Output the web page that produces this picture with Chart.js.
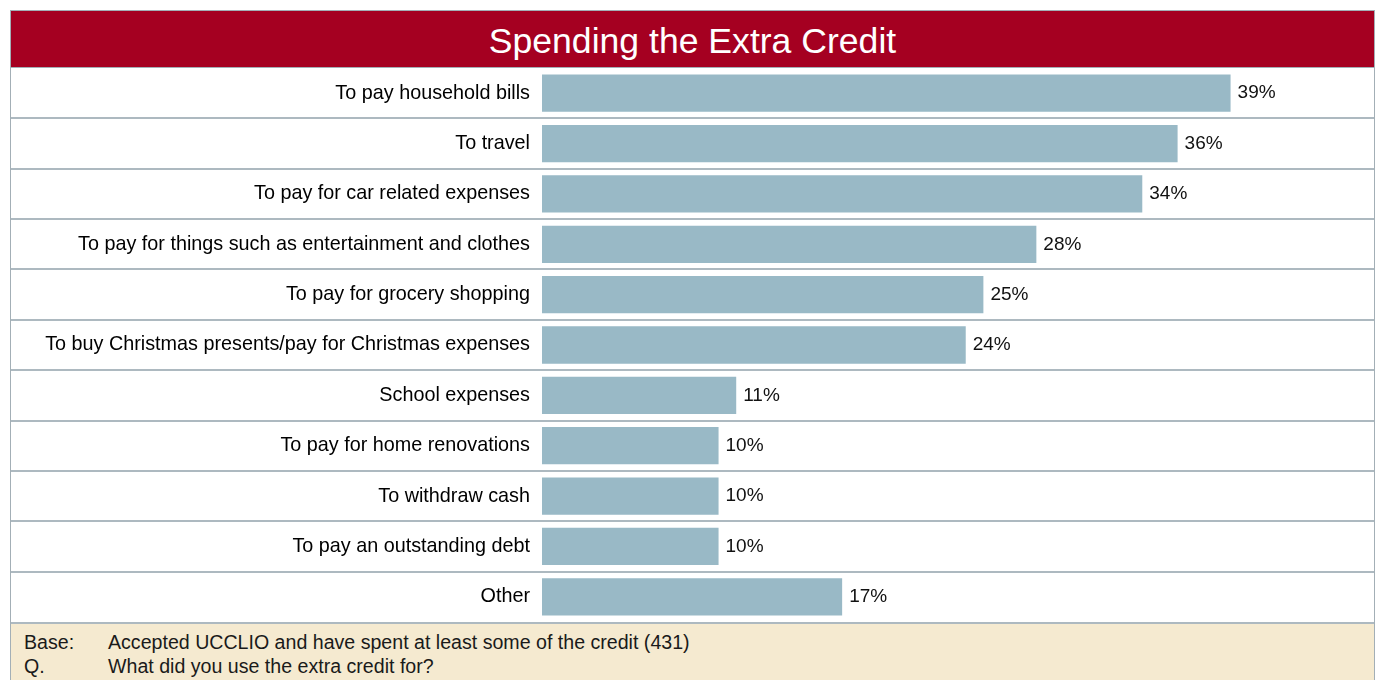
<!DOCTYPE html>
<html>
<head>
<meta charset="utf-8">
<title>Spending the Extra Credit</title>
<script src="https://cdn.jsdelivr.net/npm/chart.js@4"></script>
<style>
  html, body { margin: 0; padding: 0; background: #fff; overflow: hidden; }
  body { width: 1380px; height: 680px; font-family: "Liberation Sans", Arial, sans-serif; }
  #frame {
    position: absolute; left: 10px; top: 10px; width: 1365px;
    box-sizing: border-box; border: 1px solid #a3afb6; border-bottom: none;
  }
  #title {
    height: 56px; line-height: 60px; background: #a50021; color: #fff;
    text-align: center; font-size: 35.6px; border-bottom: 1px solid #a3afb6;
  }
  #plot { position: relative; height: 554px; }
  #notes {
    height: 70px; background: #f5ead0; border-top: 2px solid #adb9c0;
    padding: 6px 0 0 13px; box-sizing: border-box; font-size: 19.6px; line-height: 24px; color: #1a1a1a;
  }
  #notes div { display: flex; }
  #notes span:first-child { width: 84px; }
</style>
</head>
<body>
<div id="frame">
  <div id="title">Spending the Extra Credit</div>
  <div id="plot"><canvas id="chart"></canvas></div>
  <div id="notes">
    <div><span>Base:</span><span>Accepted UCCLIO and have spent at least some of the credit (431)</span></div>
    <div><span>Q.</span><span>What did you use the extra credit for?</span></div>
  </div>
</div>
<script>
const categories = [
  "To pay household bills",
  "To travel",
  "To pay for car related expenses",
  "To pay for things such as entertainment and clothes",
  "To pay for grocery shopping",
  "To buy Christmas presents/pay for Christmas expenses",
  "School expenses",
  "To pay for home renovations",
  "To withdraw cash",
  "To pay an outstanding debt",
  "Other",
];
const shares = [39, 36, 34, 28, 25, 24, 11, 10, 10, 10, 17];

const fontFamily = '"Liberation Sans", Arial, sans-serif';

// horizontal separators between rows, full width of the canvas
const rowLines = {
  id: "rowLines",
  beforeDatasetsDraw(chart) {
    const y = chart.scales.y;
    const ctx = chart.ctx;
    ctx.save();
    ctx.strokeStyle = "#adb9c0";
    ctx.lineWidth = 2;
    for (let i = 0; i < categories.length - 1; i++) {
      const py = Math.round((y.getPixelForValue(i) + y.getPixelForValue(i + 1)) / 2);
      ctx.beginPath();
      ctx.moveTo(0, py);
      ctx.lineTo(chart.width, py);
      ctx.stroke();
    }
    ctx.restore();
  },
};

// percentage text just right of each bar
const valueLabels = {
  id: "valueLabels",
  afterDatasetsDraw(chart) {
    const ctx = chart.ctx;
    const meta = chart.getDatasetMeta(0);
    ctx.save();
    ctx.font = "19px " + fontFamily;
    ctx.fillStyle = "#111";
    ctx.textAlign = "left";
    ctx.textBaseline = "middle";
    meta.data.forEach((bar, i) => {
      ctx.fillText(shares[i] + "%", bar.x + 7, bar.y);
    });
    ctx.restore();
  },
};

new Chart(document.getElementById("chart"), {
  type: "bar",
  data: {
    labels: categories,
    datasets: [{
      data: shares,
      backgroundColor: "#99b9c6",
      borderWidth: 0,
      categoryPercentage: 1,
      barPercentage: 0.74,
    }],
  },
  plugins: [rowLines, valueLabels],
  options: {
    indexAxis: "y",
    responsive: true,
    maintainAspectRatio: false,
    devicePixelRatio: 1,
    animation: false,
    layout: { padding: { left: 0, right: 37.5, top: 0, bottom: 0 } },
    plugins: { legend: { display: false }, tooltip: { enabled: false } },
    scales: {
      x: { display: false, min: 0, max: 45 },
      y: {
        grid: { display: false, drawTicks: false },
        border: { display: false },
        ticks: {
          color: "#000",
          padding: 12,
          font: { family: fontFamily, size: 19.8 },
        },
        afterFit(scale) {
          scale.width = 531;
          // rows fill the full height, no room kept for label overhang
          scale.paddingTop = 0;
          scale.paddingBottom = 0;
        },
      },
    },
  },
});
</script>
</body>
</html>
